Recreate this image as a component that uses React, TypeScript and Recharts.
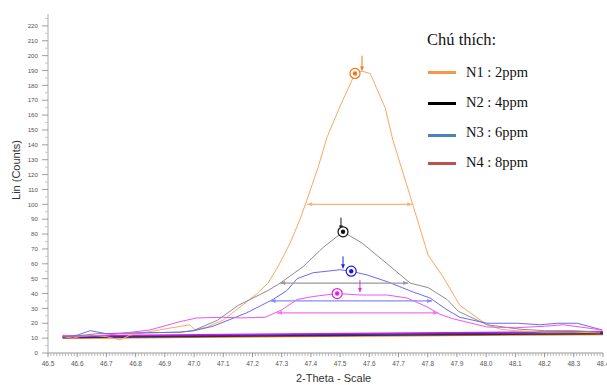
import React from "react";
import { ComposedChart, Line, XAxis, YAxis, ReferenceDot } from "recharts";

// ---- data ----
const xTickLabels = [46.5, 46.6, 46.7, 46.8, 46.9, 47.0, 47.1, 47.2, 47.3, 47.4, 47.5, 47.6, 47.7, 47.8, 47.9, 48.0, 48.1, 48.2, 48.3, 48.4];
const yTickLabels = [0, 10, 20, 30, 40, 50, 60, 70, 80, 90, 100, 110, 120, 130, 140, 150, 160, 170, 180, 190, 200, 210, 220];

const n1X = [46.55, 46.586, 46.62, 46.65, 46.7, 46.747, 46.781, 46.918, 46.986, 47.003, 47.045, 47.099, 47.158, 47.216, 47.253, 47.29, 47.329, 47.363, 47.39, 47.425, 47.455, 47.5, 47.551, 47.575, 47.603, 47.654, 47.681, 47.747, 47.764, 47.801, 47.853, 47.91, 48.003, 48.05, 48.1, 48.2, 48.3, 48.39];
const n1Y = [11, 10, 11.5, 12, 11, 8.8, 12, 16.8, 19, 15.5, 17.5, 22, 31, 40, 47, 59, 74, 90, 105, 125, 145, 166, 188, 189.5, 188, 165, 143, 101, 90, 66, 51, 32, 19, 16, 15, 14, 14, 13.5];

const n2X = [46.55, 46.62, 46.67, 46.815, 46.952, 46.997, 47.08, 47.151, 47.253, 47.295, 47.373, 47.442, 47.51, 47.575, 47.661, 47.74, 47.801, 47.866, 47.905, 48.003, 48.116, 48.2, 48.3, 48.39];
const n2Y = [11, 12, 13, 13.5, 14, 15, 22, 32, 42, 47, 58, 71, 81.5, 74, 60, 47, 44, 36, 28, 19, 16, 15, 15, 14];

const n3X = [46.55, 46.6, 46.644, 46.7, 46.8, 46.95, 47.0, 47.065, 47.18, 47.27, 47.318, 47.353, 47.408, 47.455, 47.5, 47.538, 47.592, 47.661, 47.75, 47.808, 47.866, 47.91, 48.003, 48.106, 48.185, 48.243, 48.312, 48.397];
const n3Y = [11, 12, 15, 13, 13.5, 14, 15, 18, 27, 36, 42, 50, 54, 55, 56, 55, 52.5, 48, 41, 37, 29, 24, 20, 20, 19, 20, 20, 15.5];

const n4X = [46.55, 46.6, 46.7, 46.849, 46.95, 47.01, 47.1, 47.158, 47.243, 47.3, 47.353, 47.408, 47.49, 47.568, 47.661, 47.729, 47.798, 47.842, 47.887, 48.003, 48.1, 48.2, 48.264, 48.397];
const n4Y = [12, 11, 12, 15.5, 21, 23.6, 24, 23.6, 24, 29, 36, 38, 40, 39, 39, 37, 31, 26, 23, 17.5, 17, 18, 19, 15.5];

// background lines (start, end)
const bgX = [46.55, 48.4];
const bg1Y = [10, 12.5];
const bg2Y = [10.5, 13];
const bg3Y = [11, 14];
const bg4Y = [11.5, 14.5];

// FWHM markers: [xLeft, xRight], y
const fwhm1X = [47.387, 47.747]; const fwhm1Y = 100;
const fwhm2X = [47.295, 47.733]; const fwhm2Y = 47;
const fwhm3X = [47.262, 47.815]; const fwhm3Y = 35;
const fwhm4X = [47.284, 47.836]; const fwhm4Y = 27;

// peak markers: [x, y]
const peak1 = [47.551, 188];
const peak2 = [47.51, 81.5];
const peak3 = [47.538, 55];
const peak4 = [47.49, 40];

// down arrows: x, [yTop, yBottom]
const arr1X = 47.575; const arr1Y = [200, 190];
const arr2X = 47.503; const arr2Y = [91, 83];
const arr3X = 47.51; const arr3Y = [65, 57];
const arr4X = 47.568; const arr4Y = [49, 41];

const legendLabels = ["N1 : 2ppm", "N2 : 4ppm", "N3 : 6ppm", "N4 : 8ppm"];
const legendColors = ["#f79646", "#000000", "#4f81bd", "#c0504d"];

const C1 = "#f8a766";
const C2 = "#8c8c8c";
const C3 = "#6a6af5";
const C4 = "#ee55ee";

const zip = (xs: number[], ys: number[]) => xs.map((x, i) => ({ x, y: ys[i] }));

const minorXTicks: number[] = [];
for (let i = 0; i <= 190; i++) minorXTicks.push(Math.round((46.5 + i * 0.01) * 1000) / 1000);
const minorYTicks: number[] = [];
for (let i = 0; i <= 45; i++) minorYTicks.push(i * 5);

const isMajorX = (v: number) => xTickLabels.some((t) => Math.abs(t - v) < 1e-6);
const isMajorY = (v: number) => yTickLabels.includes(v);

const hArrowDot = (color: string) => (p: any) => {
  const { cx, cy, index } = p;
  if (cx == null || cy == null) return <g key={`d${index}`} />;
  const dir = index === 0 ? -1 : 1;
  return (
    <path
      key={`d${index}`}
      d={`M${cx},${cy} L${cx - dir * 5},${cy - 2} L${cx - dir * 5},${cy + 2} Z`}
      fill={color}
      stroke="none"
    />
  );
};

const vArrowDot = (color: string) => (p: any) => {
  const { cx, cy, index } = p;
  if (cx == null || cy == null || index === 0) return <g key={`v${index}`} />;
  return (
    <path key={`v${index}`} d={`M${cx},${cy} L${cx - 2},${cy - 4} L${cx + 2},${cy - 4} Z`} fill={color} />
  );
};

const peakShape = (color: string) => (p: any) => {
  const { cx, cy } = p;
  return (
    <g>
      <circle cx={cx} cy={cy} r={5} fill="#fff" stroke={color} strokeWidth={1.2} />
      <circle cx={cx} cy={cy} r={2.2} fill={color} />
    </g>
  );
};

const series = [
  { d: zip(n1X, n1Y), c: C1 },
  { d: zip(n2X, n2Y), c: C2 },
  { d: zip(n3X, n3Y), c: C3 },
  { d: zip(n4X, n4Y), c: C4 },
];
const bgs = [
  { d: zip(bgX, bg1Y), c: "#f07818" },
  { d: zip(bgX, bg2Y), c: "#333333" },
  { d: zip(bgX, bg3Y), c: "#2020e0" },
  { d: zip(bgX, bg4Y), c: "#cc22cc" },
];
const fwhms = [
  { d: zip(fwhm1X, [fwhm1Y, fwhm1Y]), c: "#f9b27a" },
  { d: zip(fwhm2X, [fwhm2Y, fwhm2Y]), c: "#999999" },
  { d: zip(fwhm3X, [fwhm3Y, fwhm3Y]), c: "#8a8af5" },
  { d: zip(fwhm4X, [fwhm4Y, fwhm4Y]), c: "#ee77ee" },
];
const arrows = [
  { d: zip([arr1X, arr1X], arr1Y), c: "#f07818" },
  { d: zip([arr2X, arr2X], arr2Y), c: "#111111" },
  { d: zip([arr3X, arr3X], arr3Y), c: "#2222ee" },
  { d: zip([arr4X, arr4X], arr4Y), c: "#dd33dd" },
];
const peaks = [
  { p: peak1, c: "#f07818" },
  { p: peak2, c: "#111111" },
  { p: peak3, c: "#1a1ae8" },
  { p: peak4, c: "#e020e0" },
];

const FONT = "Liberation Sans, Arial, sans-serif";

const xTickRender = (p: any) => {
  const { x, y, payload } = p;
  const major = isMajorX(payload.value);
  return (
    <g>
      <line x1={x} x2={x} y1={y} y2={y + (major ? 4 : 3)} stroke={major ? "#777" : "#aaa"} strokeWidth={0.8} />
      {major && (
        <text x={x} y={y + 13} textAnchor="middle" fontSize={6.5} fill="#555" fontFamily={FONT}>
          {Number(payload.value).toFixed(1)}
        </text>
      )}
    </g>
  );
};
const yTickRender = (p: any) => {
  const { x, y, payload } = p;
  const major = isMajorY(payload.value);
  return (
    <g>
      <line x1={x - (major ? 6 : 3)} x2={x} y1={y} y2={y} stroke={major ? "#888" : "#bbb"} strokeWidth={0.8} />
      {major && (
        <text x={x - 10} y={y + 2.2} textAnchor="end" fontSize={6.2} fill="#555" fontFamily={FONT}>
          {payload.value}
        </text>
      )}
    </g>
  );
};

export default function App() {
  return (
    <div style={{ position: "absolute", left: 0, top: 0, width: 607, height: 385, background: "#fff", overflow: "hidden" }}>
      <ComposedChart width={607} height={385} margin={{ top: 14, right: 4, bottom: 0, left: 0 }}>
        <XAxis
          dataKey="x"
          type="number"
          domain={[46.5, 48.4]}
          ticks={minorXTicks}
          interval={0}
          tick={xTickRender}
          tickLine={false}
          tickSize={0}
          tickMargin={0}
          stroke="#999"
          height={32}
          allowDataOverflow
        />
        <YAxis
          type="number"
          domain={[0, 228]}
          ticks={minorYTicks}
          interval={0}
          tick={yTickRender}
          tickLine={false}
          tickSize={0}
          tickMargin={0}
          stroke="#aaa"
          width={48}
          allowDataOverflow
        />
        {bgs.map((s, i) => (
          <Line key={`bg${i}`} data={s.d} dataKey="y" stroke={s.c} strokeWidth={1.5} dot={false} activeDot={false} isAnimationActive={false} />
        ))}
        {series.map((s, i) => (
          <Line key={`s${i}`} data={s.d} dataKey="y" stroke={s.c} strokeWidth={1} dot={false} activeDot={false} isAnimationActive={false} />
        ))}
        {fwhms.map((s, i) => (
          <Line key={`f${i}`} data={s.d} dataKey="y" stroke={s.c} strokeWidth={1.2} dot={hArrowDot(s.c)} activeDot={false} isAnimationActive={false} />
        ))}
        {arrows.map((s, i) => (
          <Line key={`a${i}`} data={s.d} dataKey="y" stroke={s.c} strokeWidth={1} dot={vArrowDot(s.c)} activeDot={false} isAnimationActive={false} />
        ))}
        {peaks.map((s, i) => (
          <ReferenceDot key={`p${i}`} x={s.p[0]} y={s.p[1]} r={5} shape={peakShape(s.c)} />
        ))}
      </ComposedChart>
      <div style={{ position: "absolute", left: -24, top: 163, width: 80, height: 14, transform: "rotate(-90deg)", fontFamily: FONT, fontSize: 11, color: "#333", whiteSpace: "nowrap", textAlign: "center", lineHeight: "14px" }}>
        Lin (Counts)
      </div>
      <div style={{ position: "absolute", left: 296, top: 372, fontFamily: FONT, fontSize: 11, color: "#333", whiteSpace: "nowrap" }}>
        2-Theta - Scale
      </div>
      <div style={{ position: "absolute", left: 427, top: 30, fontFamily: "Liberation Serif, Times New Roman, serif", fontSize: 16.5, color: "#111", whiteSpace: "nowrap" }}>
        Chú thích:
      </div>
      {legendLabels.map((lab, i) => (
        <React.Fragment key={lab}>
          <div style={{ position: "absolute", left: 428, top: [72, 103, 135, 163][i] - 1.5, width: 28, height: 3, background: legendColors[i] }} />
          <div style={{ position: "absolute", left: 466, top: [72, 102, 132, 162][i] - 9, fontFamily: "Liberation Serif, Times New Roman, serif", fontSize: 14.5, color: "#111", whiteSpace: "nowrap", lineHeight: "18px" }}>
            {lab}
          </div>
        </React.Fragment>
      ))}
    </div>
  );
}
